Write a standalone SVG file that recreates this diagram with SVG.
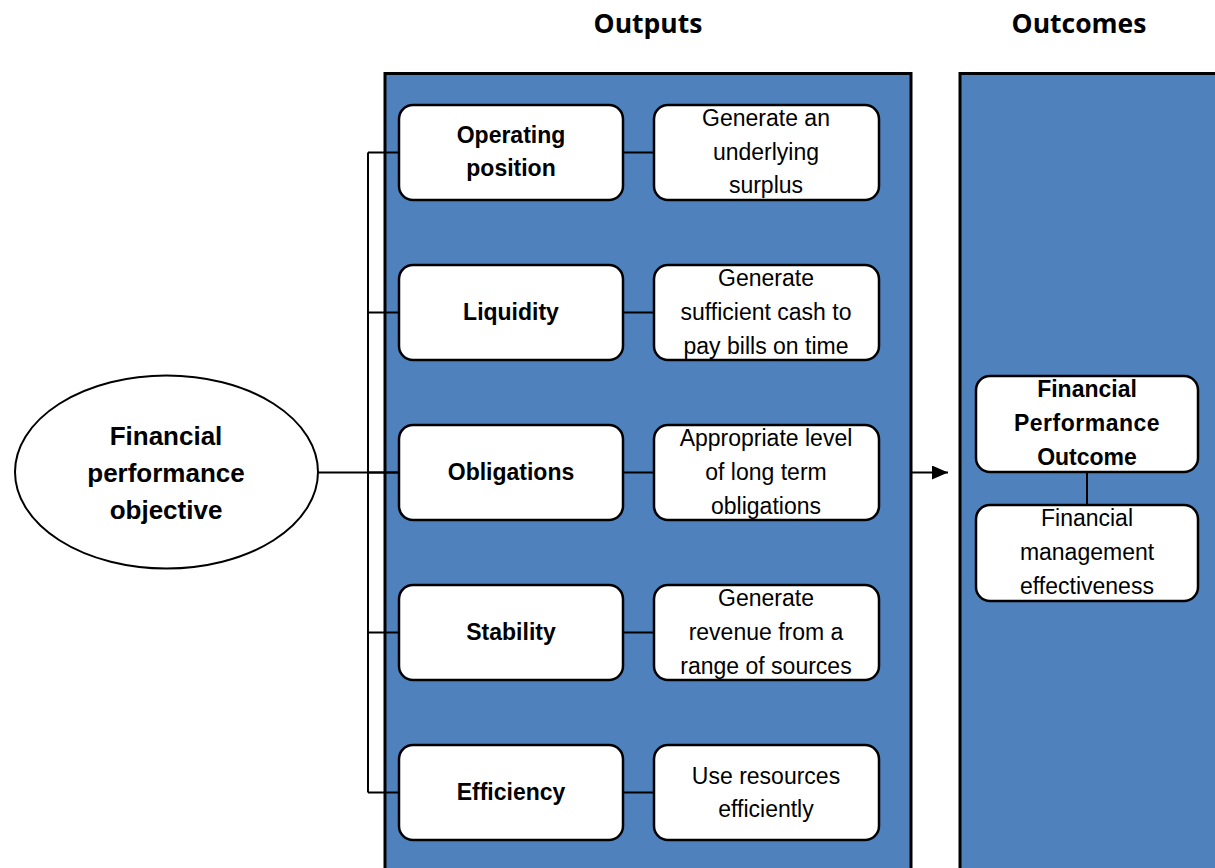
<svg xmlns="http://www.w3.org/2000/svg" width="1215" height="868" viewBox="0 0 1215 868">
  <defs>
    <style>
      .panel { fill: #4F81BD; stroke: #000; stroke-width: 3; }
      .box { fill: #fff; stroke: #000; stroke-width: 2.5; }
      .oval { fill: #fff; stroke: #000; stroke-width: 2; }
      .wire { fill: none; stroke: #000; stroke-width: 2; }
      .title { font-family: "Open Sans", "Liberation Sans", sans-serif; font-weight: bold; font-size: 26.5px; fill: #000; text-anchor: middle; }
      .lbl { font-family: "Liberation Sans", Arial, sans-serif; font-size: 23px; fill: #000; text-anchor: middle; }
      .b { font-weight: bold; }
      .big { font-size: 26px; }
    </style>
    <marker id="arrow" viewBox="0 0 16 14" refX="16" refY="7" markerWidth="16" markerHeight="14" markerUnits="userSpaceOnUse" orient="auto">
      <path d="M0,0 L16,7 L0,14 Z" fill="#000"/>
    </marker>
  </defs>

  <rect width="1215" height="868" fill="#fff"/>

  <!-- column headings -->
  <text class="title" x="648" y="33">Outputs</text>
  <text class="title" x="1079" y="33">Outcomes</text>

  <!-- column panels -->
  <g id="outputs-panel">
    <rect class="panel" x="385" y="73.5" width="526" height="810"/>
  </g>
  <g id="outcomes-panel">
    <rect class="panel" x="960" y="73.5" width="270" height="810"/>
  </g>

  <!-- connectors -->
  <g id="connectors">
    <path class="wire" d="M368,152.5 V792.5 M368,152.5 H399 M368,312.5 H399 M368,472.5 H399 M368,632.5 H399 M368,792.5 H399"/>
    <path class="wire" d="M318,472.5 H399"/>
    <path class="wire" d="M623,152.5 H654 M623,312.5 H654 M623,472.5 H654 M623,632.5 H654 M623,792.5 H654"/>
    <path class="wire" d="M1087,472 V505"/>
    <line class="wire" x1="911" y1="472.5" x2="948" y2="472.5" marker-end="url(#arrow)"/>
  </g>

  <!-- objective -->
  <g id="objective">
    <ellipse class="oval" cx="166.5" cy="472" rx="151.5" ry="96.5"/>
    <text class="lbl b big" x="166" y="445">Financial</text>
    <text class="lbl b big" x="166" y="482">performance</text>
    <text class="lbl b big" x="166" y="519">objective</text>
  </g>

  <!-- output measures -->
  <g id="operating-position">
    <rect class="box" x="399" y="105" width="224" height="95" rx="14"/>
    <text class="lbl b" x="511" y="143">Operating</text>
    <text class="lbl b" x="511" y="176">position</text>
  </g>
  <g id="surplus">
    <rect class="box" x="654" y="105" width="225" height="95" rx="14"/>
    <text class="lbl" x="766" y="126">Generate an</text>
    <text class="lbl" x="766" y="160">underlying</text>
    <text class="lbl" x="766" y="193">surplus</text>
  </g>

  <g id="liquidity">
    <rect class="box" x="399" y="265" width="224" height="95" rx="14"/>
    <text class="lbl b" x="511" y="320">Liquidity</text>
  </g>
  <g id="cash">
    <rect class="box" x="654" y="265" width="225" height="95" rx="14"/>
    <text class="lbl" x="766" y="286">Generate</text>
    <text class="lbl" x="766" y="320">sufficient cash to</text>
    <text class="lbl" x="766" y="354">pay bills on time</text>
  </g>

  <g id="obligations">
    <rect class="box" x="399" y="425" width="224" height="95" rx="14"/>
    <text class="lbl b" x="511" y="480">Obligations</text>
  </g>
  <g id="long-term">
    <rect class="box" x="654" y="425" width="225" height="95" rx="14"/>
    <text class="lbl" x="766" y="446">Appropriate level</text>
    <text class="lbl" x="766" y="480">of long term</text>
    <text class="lbl" x="766" y="514">obligations</text>
  </g>

  <g id="stability">
    <rect class="box" x="399" y="585" width="224" height="95" rx="14"/>
    <text class="lbl b" x="511" y="640">Stability</text>
  </g>
  <g id="revenue">
    <rect class="box" x="654" y="585" width="225" height="95" rx="14"/>
    <text class="lbl" x="766" y="606">Generate</text>
    <text class="lbl" x="766" y="640">revenue from a</text>
    <text class="lbl" x="766" y="674">range of sources</text>
  </g>

  <g id="efficiency">
    <rect class="box" x="399" y="745" width="224" height="95" rx="14"/>
    <text class="lbl b" x="511" y="800">Efficiency</text>
  </g>
  <g id="resources">
    <rect class="box" x="654" y="745" width="225" height="95" rx="14"/>
    <text class="lbl" x="766" y="784">Use resources</text>
    <text class="lbl" x="766" y="817">efficiently</text>
  </g>

  <!-- outcomes -->
  <g id="outcome">
    <rect class="box" x="976" y="376" width="222" height="96" rx="14"/>
    <text class="lbl b" x="1087" y="397">Financial</text>
    <text class="lbl b" x="1087" y="431" letter-spacing="0.5">Performance</text>
    <text class="lbl b" x="1087" y="465">Outcome</text>
  </g>
  <g id="effectiveness">
    <rect class="box" x="976" y="505" width="222" height="96" rx="14"/>
    <text class="lbl" x="1087" y="526">Financial</text>
    <text class="lbl" x="1087" y="560">management</text>
    <text class="lbl" x="1087" y="594">effectiveness</text>
  </g>
</svg>
